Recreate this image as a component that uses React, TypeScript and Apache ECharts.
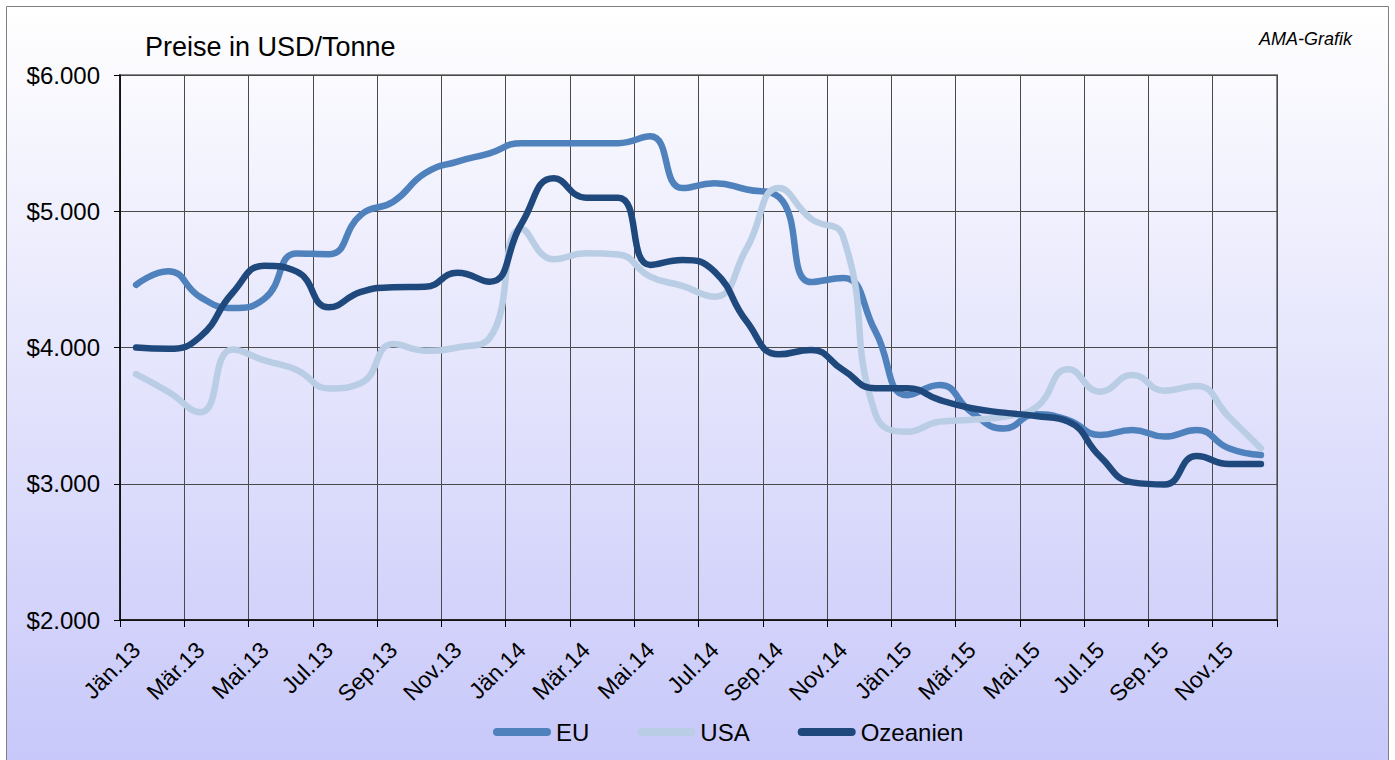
import React, { useEffect, useRef } from "react";
import * as echarts from "echarts";

const categories = [
  "Jän.13", "Feb.13", "Mär.13", "Apr.13", "Mai.13", "Jun.13", "Jul.13", "Aug.13", "Sep.13", "Okt.13", "Nov.13", "Dez.13",
  "Jän.14", "Feb.14", "Mär.14", "Apr.14", "Mai.14", "Jun.14", "Jul.14", "Aug.14", "Sep.14", "Okt.14", "Nov.14", "Dez.14",
  "Jän.15", "Feb.15", "Mär.15", "Apr.15", "Mai.15", "Jun.15", "Jul.15", "Aug.15", "Sep.15", "Okt.15", "Nov.15", "Dez.15",
];

const euValues = [
  4460, 4560, 4370, 4290, 4360, 4690, 4685, 4975, 5070, 5280, 5365, 5425,
  5500, 5500, 5500, 5500, 5550, 5170, 5205, 5160, 5105, 4480, 4510, 4120,
  3650, 3725, 3525, 3405, 3510, 3468, 3358, 3395, 3346, 3395, 3260, 3211,
];

const usaValues = [
  3805, 3675, 3525, 3985, 3905, 3835, 3700, 3740, 4025, 3977, 4000, 4070,
  4870, 4647, 4691, 4682, 4520, 4452, 4373, 4728, 5170, 4945, 4813, 3515,
  3382, 3456, 3470, 3492, 3560, 3840, 3676, 3798, 3683, 3718, 3492, 3260,
];

const ozValues = [
  4000, 3990, 4080, 4400, 4600, 4557, 4295, 4408, 4442, 4446, 4549, 4483,
  4912, 5242, 5100, 5100, 4606, 4642, 4557, 4190, 3950, 3982, 3835, 3701,
  3701, 3615, 3554, 3522, 3497, 3456, 3199, 3010, 2995, 3204, 3145, 3145,
];

const seriesNames = ["EU", "USA", "Ozeanien"];
const seriesColors = ["#4f81bd", "#b9cde5", "#1f497d"];

const FONT = "'Liberation Sans', Arial, sans-serif";
const pill = "path://M4,0 L54,0 A4,4 0 0 1 54,8 L4,8 A4,4 0 0 1 4,0 Z";

export default function App() {
  const ref = useRef<HTMLDivElement>(null);

  useEffect(() => {
    if (!ref.current) return;
    const chart = echarts.init(ref.current, null, { renderer: "svg" });
    const data = [euValues, usaValues, ozValues];
    chart.setOption({
      animation: false,
      backgroundColor: "#ffffff",
      textStyle: { fontFamily: FONT },
      graphic: [
        {
          type: "rect",
          z: -100,
          silent: true,
          shape: { x: 6.5, y: 6.5, width: 1382, height: 800 },
          style: {
            fill: new echarts.graphic.LinearGradient(0, 0, 0, 1, [
              { offset: 0, color: "#ffffff" },
              { offset: 0.94, color: "#c8c8fa" },
              { offset: 1, color: "#c4c4fa" },
            ]),
            stroke: "#7f7f7f",
            lineWidth: 1,
          },
        },
        {
          type: "text",
          x: 145,
          y: 47,
          style: {
            text: "Preise in USD/Tonne",
            fontSize: 27,
            fontFamily: FONT,
            fill: "#000000",
            align: "left",
            verticalAlign: "middle",
          },
        },
        {
          type: "text",
          x: 1352,
          y: 39,
          style: {
            text: "AMA-Grafik",
            fontSize: 18,
            fontStyle: "italic",
            fontFamily: FONT,
            fill: "#000000",
            align: "right",
            verticalAlign: "middle",
          },
        },
      ],
      grid: {
        left: 120,
        right: 118,
        top: 75,
        bottom: 140,
        show: true,
        borderColor: "#8a8a8a",
        borderWidth: 2,
        backgroundColor: "transparent",
      },
      legend: {
        left: 493,
        top: 720,
        padding: 0,
        itemWidth: 58,
        itemHeight: 8,
        itemGap: 48,
        icon: pill,
        data: seriesNames,
        textStyle: { fontSize: 24, color: "#000000", fontFamily: FONT },
      },
      xAxis: {
        type: "category",
        data: categories,
        boundaryGap: true,
        axisLine: { lineStyle: { color: "#000000", width: 1.5 } },
        axisTick: { show: true, interval: 1, length: 7, alignWithLabel: false, lineStyle: { color: "#000000" } },
        axisLabel: {
          interval: 1,
          rotate: 45,
          margin: 26,
          fontSize: 23,
          color: "#000000",
          fontFamily: FONT,
        },
        splitLine: { show: true, interval: 1, lineStyle: { color: "#4a4a4a", width: 1 } },
      },
      yAxis: {
        type: "value",
        min: 2000,
        max: 6000,
        interval: 1000,
        axisLine: { show: true, lineStyle: { color: "#000000", width: 1.5 } },
        axisTick: { show: true, length: 6, lineStyle: { color: "#000000" } },
        axisLabel: {
          margin: 20,
          fontSize: 24,
          color: "#000000",
          fontFamily: FONT,
          formatter: (v: number) => "$" + Math.round(v / 1000) + ".000",
        },
        splitLine: { show: true, lineStyle: { color: "#4a4a4a", width: 1 } },
      },
      series: seriesNames.map((name, i) => ({
        name,
        type: "line",
        data: data[i],
        smooth: 0.5,
        symbol: "none",
        showSymbol: false,
        lineStyle: { color: seriesColors[i], width: 6.5, cap: "round", join: "round" },
        itemStyle: { color: seriesColors[i] },
        z: 3 + i,
      })),
    });
    return () => chart.dispose();
  }, []);

  return (
    <div
      ref={ref}
      style={{ position: "fixed", left: 0, top: 0, width: 1395, height: 760 }}
    />
  );
}
